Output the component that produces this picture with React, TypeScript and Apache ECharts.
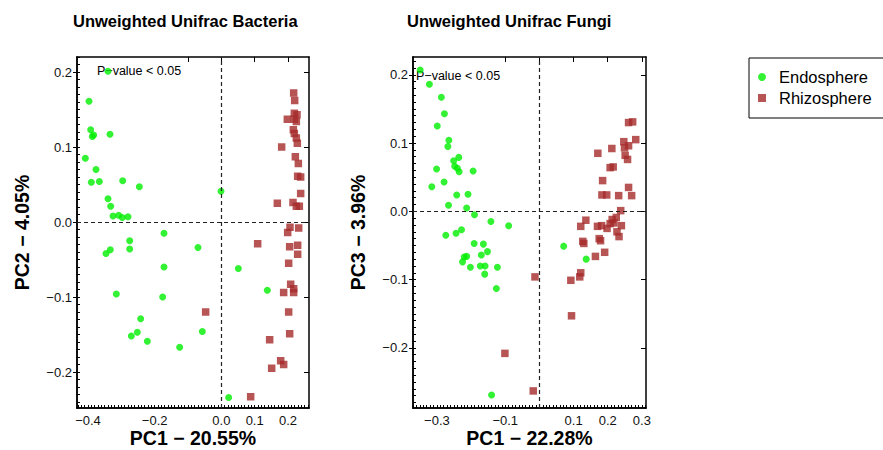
import React, { useEffect, useRef } from 'react';
import * as echarts from 'echarts';

// ---- Data (PC coordinates) ----
const bacteriaEndosphere: number[][] = [
  [-0.340, 0.201], [-0.397, 0.161], [-0.392, 0.123], [-0.387, 0.114], [-0.383, 0.116],
  [-0.334, 0.117], [-0.408, 0.085], [-0.376, 0.070], [-0.390, 0.053], [-0.366, 0.054],
  [-0.296, 0.055], [-0.246, 0.047], [-0.001, 0.041], [-0.340, 0.031], [-0.332, 0.021],
  [-0.325, 0.008], [-0.308, 0.009], [-0.297, 0.006], [-0.280, 0.007], [-0.172, -0.015],
  [-0.275, -0.025], [-0.275, -0.036], [-0.333, -0.037], [-0.346, -0.042], [-0.070, -0.034],
  [-0.172, -0.060], [0.051, -0.062], [-0.315, -0.096], [-0.176, -0.100], [0.138, -0.091],
  [-0.242, -0.129], [-0.252, -0.147], [-0.270, -0.152], [-0.222, -0.159], [-0.125, -0.167],
  [-0.057, -0.146], [0.022, -0.234],
];
const bacteriaRhizosphere: number[][] = [
  [0.217, 0.172], [0.220, 0.162], [0.219, 0.145], [0.227, 0.143], [0.198, 0.137],
  [0.225, 0.134], [0.219, 0.137], [0.216, 0.123], [0.219, 0.118], [0.225, 0.112],
  [0.228, 0.105], [0.181, 0.100], [0.222, 0.087], [0.231, 0.078], [0.229, 0.061],
  [0.238, 0.060], [0.238, 0.038], [0.168, 0.025], [0.215, 0.026], [0.225, 0.021],
  [0.234, 0.021], [0.206, -0.007], [0.232, -0.008], [0.199, -0.014], [0.109, -0.029],
  [0.205, -0.033], [0.229, -0.031], [0.229, -0.043], [0.202, -0.055], [0.208, -0.083],
  [0.217, -0.089], [0.187, -0.094], [0.217, -0.094], [0.202, -0.120], [-0.047, -0.120],
  [0.205, -0.149], [0.145, -0.157], [0.178, -0.185], [0.187, -0.190], [0.151, -0.195],
  [0.088, -0.233],
];
const fungiEndosphere: number[][] = [
  [-0.349, 0.207], [-0.322, 0.186], [-0.287, 0.167], [-0.278, 0.143], [-0.299, 0.125],
  [-0.265, 0.104], [-0.268, 0.095], [-0.236, 0.079], [-0.251, 0.074], [-0.248, 0.066],
  [-0.240, 0.063], [-0.235, 0.058], [-0.301, 0.062], [-0.194, 0.059], [-0.315, 0.036],
  [-0.279, 0.043], [-0.242, 0.024], [-0.209, 0.025], [-0.266, 0.009], [-0.213, 0.005],
  [-0.190, -0.005], [-0.142, -0.015], [-0.090, -0.021], [-0.274, -0.035], [-0.244, -0.032],
  [-0.228, -0.027], [-0.191, -0.047], [-0.164, -0.048], [0.071, -0.051], [-0.152, -0.059],
  [-0.213, -0.066], [-0.220, -0.067], [-0.170, -0.064], [-0.225, -0.074], [0.137, -0.070],
  [-0.202, -0.082], [-0.173, -0.080], [-0.159, -0.080], [-0.123, -0.082], [-0.160, -0.092],
  [-0.126, -0.113], [-0.140, -0.269],
];
const fungiRhizosphere: number[][] = [
  [0.261, 0.130], [0.273, 0.131], [0.282, 0.105], [0.247, 0.102], [0.212, 0.092],
  [0.261, 0.096], [0.249, 0.093], [0.171, 0.085], [0.251, 0.082], [0.258, 0.076],
  [0.216, 0.065], [0.207, 0.064], [0.185, 0.045], [0.261, 0.035], [0.183, 0.024],
  [0.197, 0.024], [0.232, 0.023], [0.270, 0.023], [0.238, 0.001], [0.136, -0.013],
  [0.121, -0.022], [0.170, -0.022], [0.182, -0.021], [0.198, -0.025], [0.207, -0.018],
  [0.218, -0.017], [0.213, -0.012], [0.225, -0.009], [0.240, -0.021], [0.227, -0.030],
  [0.233, -0.037], [0.127, -0.044], [0.130, -0.047], [0.175, -0.040], [0.179, -0.043],
  [0.191, -0.060], [0.164, -0.066], [0.121, -0.090], [0.118, -0.096], [0.092, -0.101],
  [0.094, -0.153], [-0.013, -0.096], [-0.101, -0.208], [-0.018, -0.263],
];

// ---- Axis extents & tick labels ----
const bacteriaXRange = [-0.433, 0.263];
const bacteriaYRange = [-0.248, 0.22];
const fungiXRange = [-0.37, 0.312];
const fungiYRange = [-0.288, 0.226];
const bacteriaXLabels = [-0.4, -0.2, 0.0, 0.1, 0.2];
const bacteriaXTopTicks = [-0.1, 0.0, 0.1, 0.2];
const bacteriaYLabels = [-0.2, -0.1, 0.0, 0.1, 0.2];
const fungiXLabels = [-0.3, -0.1, 0.1, 0.2, 0.3];
const fungiXTopTicks = [-0.1, 0.0, 0.1, 0.2, 0.3];
const fungiYLabels = [-0.2, -0.1, 0.0, 0.1, 0.2];

const panelTitles = ['Unweighted Unifrac Bacteria', 'Unweighted Unifrac Fungi'];
const xNames = ['PC1 \u2212 20.55%', 'PC1 \u2212 22.28%'];
const yNames = ['PC2 \u2212 4.05%', 'PC3 \u2212 3.96%'];
const groupNames = ['Endosphere', 'Rhizosphere'];
const annotation = 'P\u2212value < 0.05';

const FONT = '"Liberation Sans", Arial, Helvetica, sans-serif';
const GREEN = '#00EE00';
const BROWN = '#A52A2A';

function hundredths(r: number[]): number[] {
  const out: number[] = [];
  for (let k = Math.ceil(r[0] * 100); k <= Math.floor(r[1] * 100); k++) out.push(k / 100);
  return out;
}
const fmt = (v: number) => (v < -1e-9 ? '\u2212' : '') + Math.abs(v).toFixed(1);

function panelAxes(
  gridIndex: number,
  xr: number[], yr: number[],
  xLabels: number[], xTop: number[], yLabels: number[],
  xName: string, yName: string,
) {
  const line = { show: true, onZero: false, lineStyle: { color: '#000', width: 1.5 } };
  const base = { type: 'value', gridIndex, splitLine: { show: false }, axisLine: line };
  const labelStyle = { color: '#111', fontSize: 13, fontFamily: FONT };
  const nameStyle = { color: '#000', fontSize: 19.5, fontWeight: 'bold', fontFamily: FONT, lineHeight: 18 };
  const tickLine = { color: '#000', width: 1 };
  const xAxes = [
    {
      ...base, position: 'bottom', min: xr[0], max: xr[1],
      axisTick: { show: false },
      axisLabel: { ...labelStyle, customValues: xLabels, formatter: fmt, margin: 6 },
      name: xName, nameLocation: 'middle', nameGap: 21, nameMoveOverlap: false, nameTextStyle: nameStyle,
    },
    {
      ...base, position: 'bottom', min: xr[0], max: xr[1],
      axisLabel: { show: false },
      axisTick: { show: true, inside: true, length: 3, customValues: hundredths(xr), lineStyle: tickLine },
    },
    {
      ...base, position: 'top', min: xr[0], max: xr[1],
      axisLabel: { show: false },
      axisTick: { show: true, inside: true, length: 5, customValues: xTop, lineStyle: tickLine },
    },
  ];
  const yAxes = [
    {
      ...base, position: 'left', min: yr[0], max: yr[1],
      axisTick: { show: true, inside: false, length: 4, customValues: yLabels, lineStyle: tickLine },
      axisLabel: { ...labelStyle, customValues: yLabels, formatter: fmt, margin: 5 },
      name: yName, nameLocation: 'middle', nameGap: 46, nameTextStyle: nameStyle,
    },
    {
      ...base, position: 'left', min: yr[0], max: yr[1],
      axisLabel: { show: false },
      axisTick: { show: true, inside: true, length: 3, customValues: hundredths(yr), lineStyle: tickLine },
    },
    {
      ...base, position: 'right', min: yr[0], max: yr[1],
      axisLabel: { show: false },
      axisTick: { show: true, inside: true, length: 5, customValues: yLabels, lineStyle: tickLine },
    },
  ];
  return { xAxes, yAxes };
}

export default function App() {
  const ref = useRef<HTMLDivElement>(null);
  useEffect(() => {
    if (!ref.current) return;
    const chart = echarts.init(ref.current, undefined, { renderer: 'svg' });
    const p0 = panelAxes(0, bacteriaXRange, bacteriaYRange, bacteriaXLabels, bacteriaXTopTicks, bacteriaYLabels, xNames[0], yNames[0]);
    const p1 = panelAxes(1, fungiXRange, fungiYRange, fungiXLabels, fungiXTopTicks, fungiYLabels, xNames[1], yNames[1]);

    const markLine = {
      silent: true,
      symbol: ['none', 'none'],
      label: { show: false },
      lineStyle: { type: [4, 3], color: '#222', width: 1.2 },
      data: [{ xAxis: 0 }, { yAxis: 0 }],
    };
    const endoStyle = { type: 'scatter', name: groupNames[0], symbol: 'circle', symbolSize: 7, itemStyle: { color: GREEN } };
    const rhizoStyle = { type: 'scatter', name: groupNames[1], symbol: 'rect', symbolSize: 7.5, itemStyle: { color: BROWN } };

    const option: any = {
      animation: false,
      backgroundColor: '#fff',
      grid: [
        { left: 77, top: 57, width: 232, height: 351, outerBoundsMode: 'none', containLabel: false },
        { left: 413, top: 57, width: 233, height: 351, outerBoundsMode: 'none', containLabel: false },
      ],
      xAxis: [...p0.xAxes, ...p1.xAxes],
      yAxis: [...p0.yAxes, ...p1.yAxes],
      legend: {
        orient: 'vertical',
        left: 749,
        top: 58,
        padding: [10, 12, 11, 9],
        borderColor: '#000',
        borderWidth: 1,
        itemGap: 3,
        itemWidth: 8,
        itemHeight: 8,
        selectedMode: false,
        textStyle: { fontSize: 16.5, color: '#000', fontFamily: FONT, lineHeight: 18, padding: [0, 0, 0, 8] },
        data: [
          { name: groupNames[0], icon: 'circle' },
          { name: groupNames[1], icon: 'rect' },
        ],
      },
      graphic: [
        { type: 'text', left: 193 - 120, top: 12, style: { text: panelTitles[0], x: 0, y: 0, font: `bold 16.5px ${FONT}`, fill: '#000', width: 240, align: 'center' } },
        { type: 'text', left: 527 - 120, top: 12, style: { text: panelTitles[1], x: 0, y: 0, font: `bold 16.5px ${FONT}`, fill: '#000', width: 240, align: 'center' } },
        { type: 'text', left: 97, top: 64, style: { text: annotation, font: `12.5px ${FONT}`, fill: '#000' } },
        { type: 'text', left: 416, top: 69, style: { text: annotation, font: `12.5px ${FONT}`, fill: '#000' } },
      ],
      series: [
        { ...endoStyle, xAxisIndex: 0, yAxisIndex: 0, data: bacteriaEndosphere, markLine },
        { ...rhizoStyle, xAxisIndex: 0, yAxisIndex: 0, data: bacteriaRhizosphere },
        { ...endoStyle, xAxisIndex: 3, yAxisIndex: 3, data: fungiEndosphere, markLine },
        { ...rhizoStyle, xAxisIndex: 3, yAxisIndex: 3, data: fungiRhizosphere },
      ],
    };
    chart.setOption(option);
    return () => chart.dispose();
  }, []);
  return (
    <div
      ref={ref}
      style={{ position: 'fixed', left: 0, top: 0, width: 883, height: 450, background: '#fff' }}
    />
  );
}
